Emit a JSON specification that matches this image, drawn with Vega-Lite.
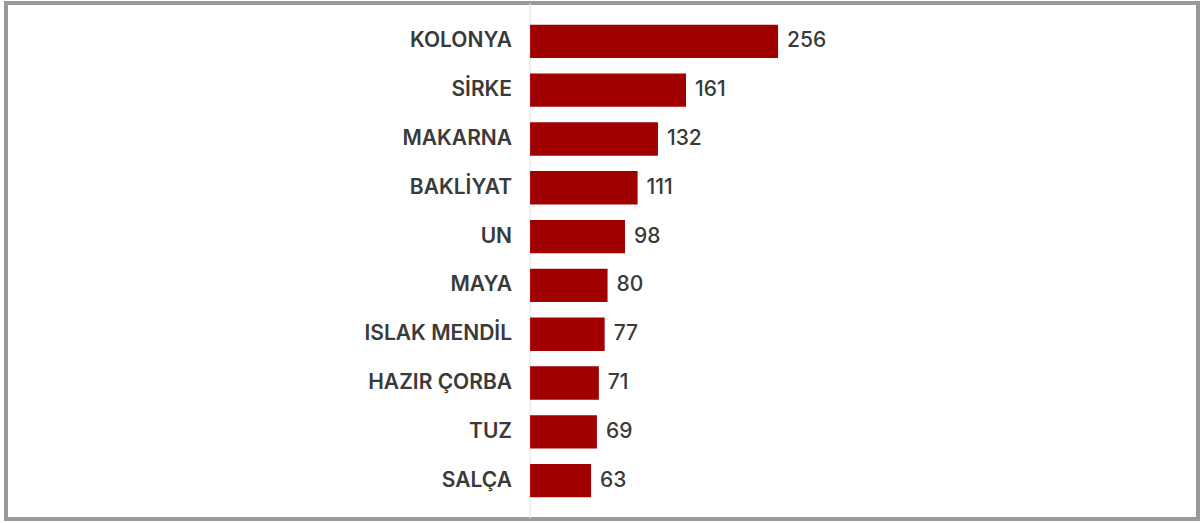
{
  "$schema": "https://vega.github.io/schema/vega-lite/v6.json",
  "width": 1200,
  "height": 523,
  "autosize": {"type": "fit", "contains": "padding"},
  "padding": {"left": 6, "top": 2, "right": 2, "bottom": 3},
  "background": "#ffffff",
  "config": {
    "view": {"stroke": "#999999", "strokeWidth": 4, "fill": "#ffffff"},
    "font": "Inter"
  },
  "data": {
    "values": [
      {"name": "KOLONYA", "value": 256},
      {"name": "SİRKE", "value": 161},
      {"name": "MAKARNA", "value": 132},
      {"name": "BAKLİYAT", "value": 111},
      {"name": "UN", "value": 98},
      {"name": "MAYA", "value": 80},
      {"name": "ISLAK MENDİL", "value": 77},
      {"name": "HAZIR ÇORBA", "value": 71},
      {"name": "TUZ", "value": 69},
      {"name": "SALÇA", "value": 63}
    ]
  },
  "encoding": {
    "y": {
      "field": "name",
      "type": "nominal",
      "sort": null,
      "axis": null,
      "scale": {"paddingInner": 0.316, "paddingOuter": 0.444}
    }
  },
  "layer": [
    {
      "data": {"values": [{}]},
      "mark": {"type": "rule", "color": "#e2e2e2", "strokeWidth": 1},
      "encoding": {
        "x": {"datum": 0, "type": "quantitative", "scale": {"domain": [-541, 689.5], "nice": false, "zero": false}, "axis": null},
        "y": null
      }
    },
    {
      "mark": {"type": "bar", "color": "#a00000"},
      "encoding": {
        "x": {"field": "value", "type": "quantitative", "scale": {"domain": [-541, 689.5], "nice": false, "zero": false}, "axis": null}
      }
    },
    {
      "mark": {"type": "text", "align": "left", "baseline": "middle", "dx": 9, "fontSize": 21, "fontWeight": 500, "color": "#3a3a3a", "letterSpacing": -1.2},
      "encoding": {
        "x": {"field": "value", "type": "quantitative"},
        "text": {"field": "value", "type": "quantitative"}
      }
    },
    {
      "mark": {"type": "text", "align": "right", "baseline": "middle", "dx": -18, "fontSize": 21, "fontWeight": 600, "color": "#3a3a3a", "letterSpacing": -0.6},
      "encoding": {
        "x": {"datum": 0, "type": "quantitative"},
        "text": {"field": "name", "type": "nominal"}
      }
    }
  ]
}
